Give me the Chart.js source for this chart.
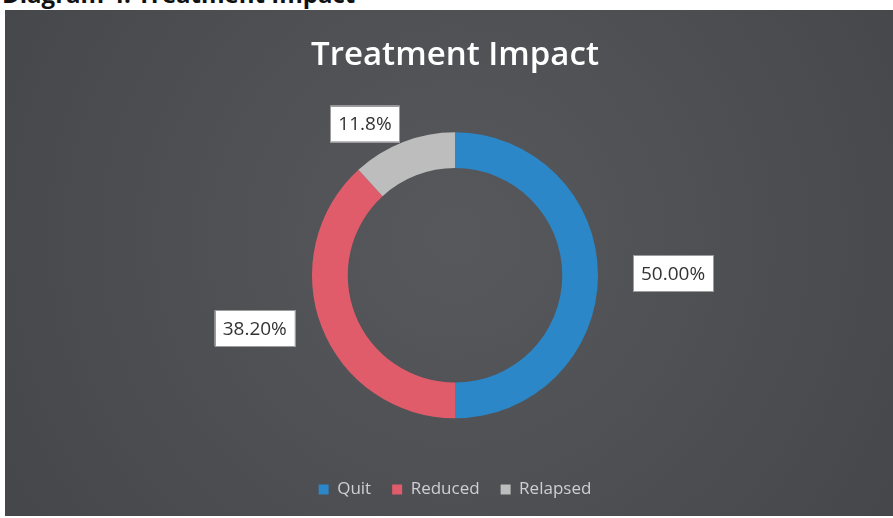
<!DOCTYPE html>
<html>
<head>
<meta charset="utf-8">
<script src="https://cdn.jsdelivr.net/npm/chart.js@4.4.1/dist/chart.umd.min.js"></script>
<style>
  html, body { margin: 0; padding: 0; background: #ffffff; width: 893px; height: 518px; overflow: hidden; position: relative; }
  #caption { position: absolute; left: 2px; top: -18px; font: bold 24px "Open Sans", sans-serif; line-height: 24px; color: #111; white-space: nowrap; z-index: 1; }
  #panel { position: absolute; left: 5px; top: 10px; width: 900px; height: 506px; z-index: 2; }
  #panel canvas { display: block; }
</style>
</head>
<body>
<div id="caption">Diagram 4: Treatment Impact</div>
<div id="panel"><canvas id="chart" width="900" height="506"></canvas></div>
<script>
// Share of participants by outcome after treatment
const categories = ['Quit', 'Reduced', 'Relapsed'];
const shares = [50.0, 38.2, 11.8];
const labelDecimals = [2, 2, 1];
const sliceColors = ['#2b87c7', '#e05c6b', '#bdbdbd'];

// Nudges for the callout boxes, in pixels
const calloutNudge = [[0, -2], [3, -18], [-13, 31]];

// Dark panel behind the whole chart
const panelBackground = {
  id: 'panelBackground',
  beforeDraw(chart) {
    const { ctx, width, height } = chart;
    const g = ctx.createRadialGradient(width / 2, height * 0.45, 20, width / 2, height * 0.45, width * 0.6);
    g.addColorStop(0, '#57585c');
    g.addColorStop(1, '#45464a');
    ctx.save();
    ctx.fillStyle = g;
    ctx.fillRect(0, 0, width, height);
    ctx.restore();
  }
};

// White boxed value labels placed outside each slice
const calloutLabels = {
  id: 'calloutLabels',
  afterDatasetsDraw(chart) {
    const { ctx } = chart;
    const meta = chart.getDatasetMeta(0);
    ctx.save();
    ctx.font = '19px "Open Sans", sans-serif';
    ctx.textAlign = 'center';
    ctx.textBaseline = 'middle';
    meta.data.forEach((arc, i) => {
      const p = arc.getProps(['x', 'y', 'startAngle', 'endAngle', 'outerRadius'], true);
      const mid = (p.startAngle + p.endAngle) / 2;
      const dx = Math.cos(mid), dy = Math.sin(mid);
      const text = shares[i].toFixed(labelDecimals[i]) + '%';
      const w = ctx.measureText(text).width + 16;
      const h = 36;
      const r = p.outerRadius + 35;
      const cx = p.x + dx * r + dx * w / 2 + calloutNudge[i][0];
      const cy = p.y + dy * r + dy * h / 2 + calloutNudge[i][1];
      ctx.fillStyle = '#ffffff';
      ctx.fillRect(cx - w / 2, cy - h / 2, w, h);
      ctx.strokeStyle = '#9c9c9c';
      ctx.lineWidth = 1;
      ctx.strokeRect(Math.round(cx - w / 2) + 0.5, Math.round(cy - h / 2) + 0.5, Math.round(w), h);
      ctx.fillStyle = '#333333';
      ctx.fillText(text, cx, cy + 1);
    });
    ctx.restore();
  }
};

new Chart(document.getElementById('chart'), {
  type: 'doughnut',
  data: {
    labels: categories,
    datasets: [{
      data: shares,
      backgroundColor: sliceColors,
      borderWidth: 0,
      radius: 143
    }]
  },
  options: {
    responsive: false,
    animation: false,
    cutout: '75%',
    layout: { padding: { top: 0, bottom: 8, left: 0, right: 0 } },
    plugins: {
      title: {
        display: true,
        text: 'Treatment Impact',
        color: '#ffffff',
        font: { family: '"Open Sans", sans-serif', size: 33, weight: '600' },
        padding: { top: 26, bottom: 15 }
      },
      legend: {
        position: 'bottom',
        labels: {
          color: '#cfcfd2',
          font: { family: '"Open Sans", sans-serif', size: 17 },
          boxWidth: 10,
          boxHeight: 10,
          padding: 21
        }
      },
      tooltip: { enabled: false }
    }
  },
  plugins: [panelBackground, calloutLabels]
});
</script>
</body>
</html>
